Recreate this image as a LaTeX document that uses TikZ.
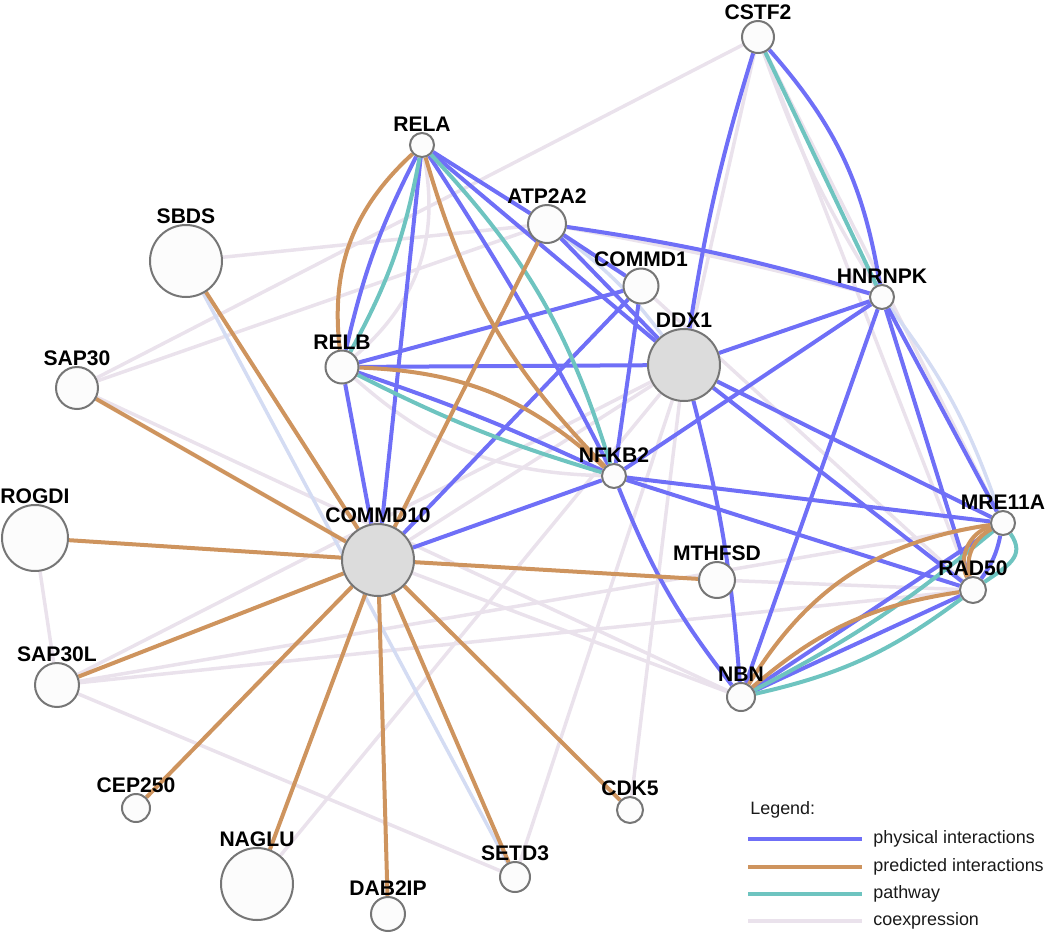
\documentclass[tikz,border=0pt]{standalone}
\usepackage{fontspec}
\setmainfont{Liberation Sans}
\usetikzlibrary{backgrounds}
\definecolor{phys}{RGB}{111,111,247}
\definecolor{pred}{RGB}{206,148,94}
\definecolor{pathw}{RGB}{110,196,192}
\definecolor{coexc}{RGB}{234,226,236}
\definecolor{colocc}{RGB}{212,220,243}
\definecolor{nborder}{RGB}{118,118,118}
\definecolor{nfill}{RGB}{252,252,252}
\definecolor{qfill}{RGB}{220,220,220}
\begin{document}
\begin{tikzpicture}[x=0.2mm,y=0.2mm,
  gn/.style={circle, draw=nborder, fill=nfill, line width=0.4mm, inner sep=0pt,
             label distance=1.1mm},
  qn/.style={gn, fill=qfill},
  lbl/.style={font=\bfseries\fontsize{12}{14}\selectfont, inner sep=0pt, text=black},
  phy/.style={draw=phys, line width=0.8mm},
  prd/.style={draw=pred, line width=0.8mm},
  pth/.style={draw=pathw, line width=0.8mm},
  cox/.style={draw=coexc, line width=0.7mm},
  col/.style={draw=colocc, line width=0.7mm},
  legtxt/.style={font=\fontsize{10.2}{12}\selectfont, anchor=west, inner sep=0pt, text=black!90}
]
\useasboundingbox (0,0) rectangle (1050,-933);

% nodes
\node[gn, minimum size=6.4mm, label={[lbl]above:CSTF2}] (cstf2) at (758,-37) {};
\node[gn, minimum size=4.8mm, label={[lbl]above:RELA}] (rela) at (422,-145) {};
\node[gn, minimum size=7.6mm, label={[lbl]above:ATP2A2}] (atp) at (547,-224) {};
\node[gn, minimum size=14.4mm, label={[lbl]above:SBDS}] (sbds) at (186,-261) {};
\node[gn, minimum size=7.0mm, label={[lbl]above:COMMD1}] (commd1) at (641,-286) {};
\node[gn, minimum size=4.8mm, label={[lbl]above:HNRNPK}] (hnrnpk) at (882,-297) {};
\node[qn, minimum size=14.4mm, label={[lbl]above:DDX1}] (ddx1) at (684,-365) {};
\node[gn, minimum size=6.6mm, label={[lbl]above:RELB}] (relb) at (342,-367) {};
\node[gn, minimum size=8.4mm, label={[lbl]above:SAP30}] (sap30) at (77,-388) {};
\node[gn, minimum size=4.8mm, label={[lbl]above:NFKB2}] (nfkb2) at (614,-476) {};
\node[gn, minimum size=4.8mm, label={[lbl]above:MRE11A}] (mre) at (1003,-523) {};
\node[gn, minimum size=13.2mm, label={[lbl]above:ROGDI}] (rogdi) at (35,-538) {};
\node[qn, minimum size=14.4mm, label={[lbl]above:COMMD10}] (commd10) at (378,-560) {};
\node[gn, minimum size=7.2mm, label={[lbl]above:MTHFSD}] (mthfsd) at (717,-580) {};
\node[gn, minimum size=5.2mm, label={[lbl]above:RAD50}] (rad) at (973,-590) {};
\node[gn, minimum size=8.8mm, label={[lbl]above:SAP30L}] (sap30l) at (57,-685) {};
\node[gn, minimum size=5.6mm, label={[lbl]above:NBN}] (nbn) at (741,-697) {};
\node[gn, minimum size=5.6mm, label={[lbl]above:CEP250}] (cep) at (136,-808) {};
\node[gn, minimum size=5.2mm, label={[lbl]above:CDK5}] (cdk5) at (630,-810) {};
\node[gn, minimum size=14.4mm, label={[lbl]above:NAGLU}] (naglu) at (257,-884) {};
\node[gn, minimum size=6.0mm, label={[lbl]above:SETD3}] (setd3) at (515,-877) {};
\node[gn, minimum size=6.8mm, label={[lbl]above:DAB2IP}] (dab) at (388,-914) {};

% legend
\node[legtxt] (legtitle) at (750,-810) {Legend:};
\coordinate (l1a) at (748,-839); \coordinate (l1b) at (862,-839);
\coordinate (l2a) at (748,-867); \coordinate (l2b) at (862,-867);
\coordinate (l3a) at (748,-894); \coordinate (l3b) at (862,-894);
\coordinate (l4a) at (748,-921); \coordinate (l4b) at (862,-921);
\draw[phy] (l1a) -- (l1b);
\draw[prd] (l2a) -- (l2b);
\draw[pth] (l3a) -- (l3b);
\draw[cox] (l4a) -- (l4b);
\node[legtxt] (lt1) at (873,-839) {physical interactions};
\node[legtxt] (lt2) at (873,-867) {predicted interactions};
\node[legtxt] (lt3) at (873,-894) {pathway};
\node[legtxt] (lt4) at (873,-921) {coexpression};

\begin{pgfonlayer}{background}
% coexpression
\draw[cox] (cstf2) -- (sap30);
\draw[cox] (sap30) -- (atp);
\draw[cox] (sbds) -- (atp);
\draw[cox] (sap30) -- (nbn);
\draw[cox] (rela) to[bend left=30] (relb);
\draw[cox] (relb) to[bend right=20] (nfkb2);
\draw[cox] (rogdi) -- (sap30l);
\draw[cox] (sap30l) -- (mre);
\draw[cox] (sap30l) -- (rad);
\draw[cox] (sap30l) -- (setd3);
\draw[cox] (sap30l) -- (ddx1);
\draw[cox] (naglu) -- (ddx1);
\draw[cox] (setd3) -- (ddx1);
\draw[cox] (commd10) -- (nbn);
\draw[cox] (commd10) -- (ddx1);
\draw[cox] (cstf2) -- (ddx1);
\draw[cox] (cstf2) -- (mre);
\draw[cox] (cstf2) -- (rad);
\draw[cox] (cstf2) to[bend right=6] (hnrnpk);
\draw[cox] (atp) to[bend left=2] (hnrnpk);
\draw[cox] (commd1) -- (rad);
\draw[cox] (mthfsd) -- (rad);
\draw[cox] (ddx1) -- (cdk5);
% co-localisation (light blue)
\draw[col] (sbds) -- (setd3);
\draw[col] (hnrnpk) to[bend left=9] (mre);
\draw[col] (atp) to[bend left=8] (ddx1);
% physical
\draw[phy] (rela) to[bend right=7] (relb);
\draw[phy] (rela) -- (commd10);
\draw[phy] (rela) to[bend left=3] (nfkb2);
\draw[phy] (rela) -- (atp);
\draw[phy] (rela) -- (ddx1);
\draw[phy] (atp) -- (ddx1);
\draw[phy] (atp) -- (commd1);
\draw[phy] (atp) to[bend left=4] (hnrnpk);
\draw[phy] (cstf2) to[bend right=4] (ddx1);
\draw[phy] (cstf2) to[bend left=16] (hnrnpk);
\draw[phy] (relb) -- (commd10);
\draw[phy] (relb) -- (commd1);
\draw[phy] (relb) -- (ddx1);
\draw[phy] (relb) to[bend left=3] (nfkb2);
\draw[phy] (commd1) -- (commd10);
\draw[phy] (commd1) -- (nfkb2);
\draw[phy] (commd10) -- (nfkb2);
\draw[phy] (ddx1) -- (hnrnpk);
\draw[phy] (ddx1) -- (mre);
\draw[phy] (ddx1) -- (rad);
\draw[phy] (ddx1) to[bend left=5] (nbn);
\draw[phy] (nfkb2) -- (hnrnpk);
\draw[phy] (nfkb2) -- (mre);
\draw[phy] (nfkb2) -- (rad);
\draw[phy] (nfkb2) to[bend right=8] (nbn);
\draw[phy] (hnrnpk) -- (nbn);
\draw[phy] (hnrnpk) -- (mre);
\draw[phy] (hnrnpk) -- (rad);
\draw[phy] (nbn) -- (mre);
\draw[phy] (nbn) -- (rad);
\draw[phy] (mre) to[bend left=12] (rad);
% pathway
\draw[pth] (rela) to[bend left=9] (relb);
\draw[pth] (rela) to[bend left=13] (nfkb2);
\draw[pth] (relb) to[bend right=5] (nfkb2);
\draw[pth] (cstf2) -- (hnrnpk);
\draw[pth] (nbn) to[bend right=6] (mre);
\draw[pth] (nbn) to[bend right=12] (rad);
\draw[pth] (mre) to[out=-55,in=35,looseness=1.3] (rad);
% predicted
\draw[prd] (sbds) -- (commd10);
\draw[prd] (sap30) -- (commd10);
\draw[prd] (rogdi) -- (commd10);
\draw[prd] (sap30l) -- (commd10);
\draw[prd] (cep) -- (commd10);
\draw[prd] (naglu) -- (commd10);
\draw[prd] (dab) -- (commd10);
\draw[prd] (setd3) -- (commd10);
\draw[prd] (cdk5) -- (commd10);
\draw[prd] (mthfsd) -- (commd10);
\draw[prd] (atp) -- (commd10);
\draw[prd] (rela) to[bend right=27] (relb);
\draw[prd] (rela) to[bend right=14] (nfkb2);
\draw[prd] (relb) to[bend left=20] (nfkb2);
\draw[prd] (nbn) to[bend left=25] (mre);
\draw[prd] (nbn) to[bend left=16] (rad);
\draw[prd] (mre) to[bend right=50] (rad);
\draw[prd] (mre) to[bend right=38] (rad);
\end{pgfonlayer}
\end{tikzpicture}
\end{document}
